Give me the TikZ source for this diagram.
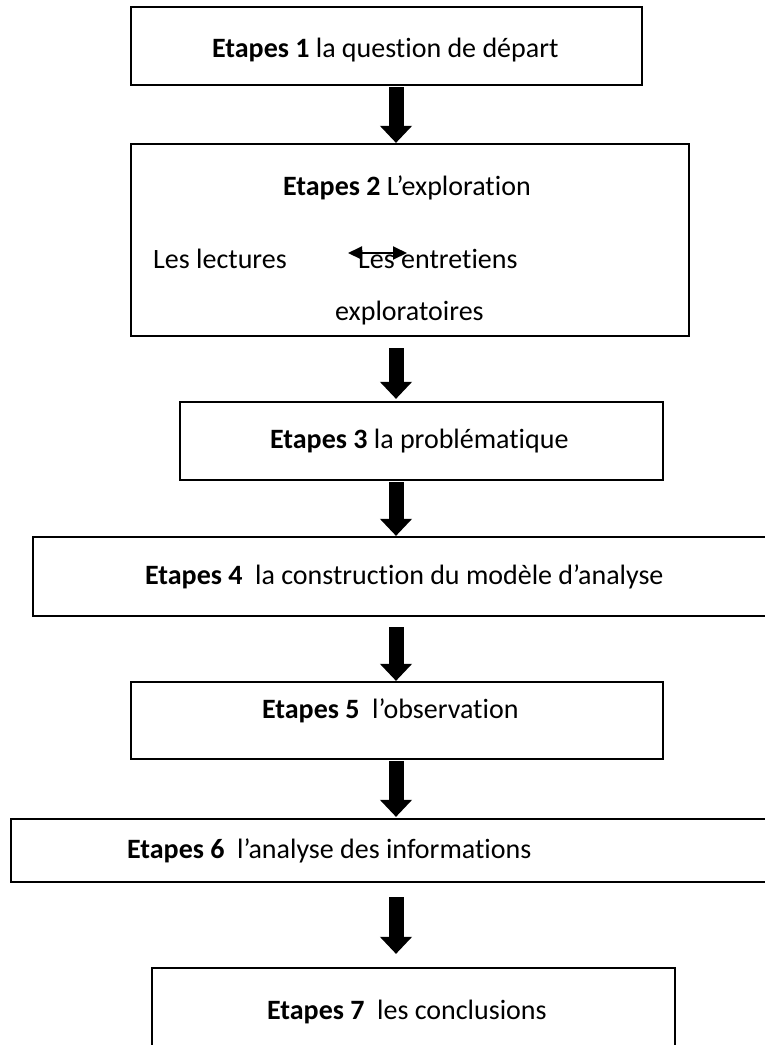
\documentclass[tikz,border=0pt]{standalone}
\usepackage{fontspec}
\setmainfont{Carlito}[Ligatures=NoCommon]
\usetikzlibrary{arrows.meta}
\begin{document}
\begin{tikzpicture}[x=1pt,y=-1pt,
  box/.style={draw=black, line width=2.2pt, rectangle, inner sep=0pt},
  lbl/.style={font=\fontsize{28}{32}\selectfont, inner sep=0pt, anchor=base west},
  blockarrow/.style={line width=15pt, -{Triangle[width=31pt,length=17pt]}},
  duoarrow/.style={line width=2pt, {Triangle[width=13pt,length=14pt]}-{Triangle[width=13pt,length=14pt]}}]
\useasboundingbox (0,0) rectangle (765,1045);
\fill[white] (0,0) rectangle (765,1045);
% boxes
\node[box, minimum width=511pt, minimum height=78pt] (b1) at (386.5,46) {};
\node[box, minimum width=558pt, minimum height=192pt] (b2) at (410,240) {};
\node[box, minimum width=483pt, minimum height=78pt] (b3) at (421.5,441) {};
\node[box, minimum width=737pt, minimum height=79pt] (b4) at (401.5,576.5) {};
\node[box, minimum width=532pt, minimum height=77pt] (b5) at (397,720.5) {};
\node[box, minimum width=759pt, minimum height=63pt] (b6) at (390.5,850.5) {};
\node[box, minimum width=523pt, minimum height=92pt] (b7) at (413.5,1014) {};
% texts
\node[lbl] (t1) at (212,57) {\textbf{Etapes 1} la question de départ};
\node[lbl] (t2) at (283,195) {\textbf{Etapes 2} L’exploration};
\node[lbl] (t2a) at (153,268) {Les lectures};
\node[lbl] (t2b) at (358,268) {Les entretiens};
\node[lbl] (t2c) at (335,320) {exploratoires};
\node[lbl] (t3) at (270,448) {\textbf{Etapes 3} la problématique};
\node[lbl] (t4) at (145,584) {\textbf{Etapes 4}\ \ la construction du modèle d’analyse};
\node[lbl] (t5) at (262,718) {\textbf{Etapes 5}\ \ l’observation};
\node[lbl] (t6) at (127,858) {\textbf{Etapes 6}\ \ l’analyse des informations};
\node[lbl] (t7) at (267,1019) {\textbf{Etapes 7}\ \ les conclusions};
% arrows
\coordinate (ax) at (396,0);
\coordinate (dl) at (348,253);
\coordinate (dr) at (407,253);
\draw[blockarrow, shorten <=1pt] (b1.south -| ax) -- (b2.north -| ax);
\draw[blockarrow, shorten <=11pt, shorten >=2pt] (b2.south -| ax) -- (b3.north -| ax);
\draw[blockarrow, shorten <=1pt] (b3.south -| ax) -- (b4.north -| ax);
\draw[blockarrow, shorten <=10pt] (b4.south -| ax) -- (b5.north -| ax);
\draw[blockarrow, shorten <=1pt, shorten >=1pt] (b5.south -| ax) -- (b6.north -| ax);
\draw[blockarrow, shorten <=14pt, shorten >=13pt] (b6.south -| ax) -- (b7.north -| ax);
\draw[duoarrow] (dl) -- (dr);
\end{tikzpicture}
\end{document}
